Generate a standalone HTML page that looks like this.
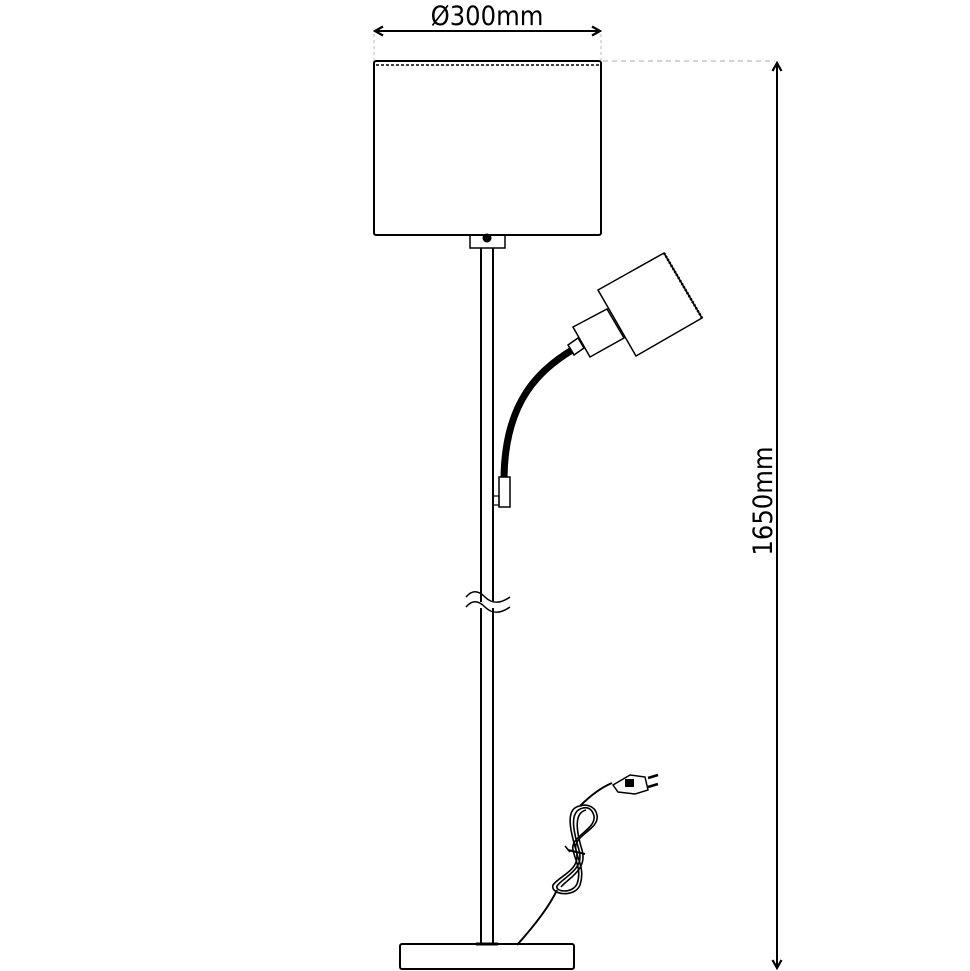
<!DOCTYPE html>
<html><head><style>
html,body{margin:0;padding:0;background:#fff;}
svg{display:block;}
text{font-family:"DejaVu Sans Condensed","Liberation Sans",sans-serif;}
</style></head><body>
<svg width="970" height="971" viewBox="0 0 970 971" xmlns="http://www.w3.org/2000/svg">
<defs>
<marker id="ah" markerWidth="12" markerHeight="12" refX="9" refY="6" orient="auto-start-reverse" markerUnits="userSpaceOnUse">
<path d="M1,1.5 L9,6 L1,10.5" fill="none" stroke="#000" stroke-width="2.2"/>
</marker>
</defs>
<g stroke="#000" fill="none" stroke-width="2">
<line x1="375" y1="31" x2="600" y2="31" marker-start="url(#ah)" marker-end="url(#ah)"/>
<line x1="374" y1="34" x2="374" y2="60" stroke="#bbb" stroke-width="1" stroke-dasharray="3,3"/>
<line x1="601" y1="34" x2="601" y2="60" stroke="#bbb" stroke-width="1" stroke-dasharray="3,3"/>
<line x1="603" y1="61" x2="775" y2="61" stroke="#aaa" stroke-width="1" stroke-dasharray="5,4"/>
<line x1="777" y1="63" x2="777" y2="968" marker-start="url(#ah)" marker-end="url(#ah)"/>
<rect x="374" y="61" width="227" height="174" rx="2"/>
<line x1="376" y1="65" x2="599" y2="65" stroke-width="1.5" stroke-dasharray="3,2"/>
<rect x="470" y="235" width="35" height="13" stroke-width="1.5"/>
<circle cx="487" cy="238" r="3.5" fill="#000"/>
<line x1="481" y1="248" x2="481" y2="602"/>
<line x1="493" y1="248" x2="493" y2="602"/>
<line x1="481" y1="608" x2="481" y2="944"/>
<line x1="493" y1="608" x2="493" y2="944"/>
<path d="M466,597 C472,590 478,590 485,597 C492,604 500,604 510,597" stroke-width="1.5"/>
<path d="M466,607 C472,600 478,600 485,607 C492,614 500,614 510,607" stroke-width="1.5"/>
<rect x="400" y="944" width="174" height="25" rx="2"/>
<line x1="476" y1="944" x2="498" y2="944" stroke-width="3"/>
<polygon points="598,290 664,253 702,318 636,356" fill="#fff" stroke-width="1.5"/>
<line x1="664" y1="253" x2="702" y2="318" stroke-width="2.5" stroke-dasharray="2,1.5"/>
<polygon points="573,327 607,309 624,338 590,357" fill="#fff" stroke-width="1.5"/>
<polygon points="568,345 578,338 584,348 574,355" fill="#fff" stroke-width="1.5"/>
<path d="M572,350 C540,370 505,400 504,478" stroke-width="7"/>
<rect x="499" y="477" width="11" height="30" fill="#fff" stroke-width="1.5"/>
<rect x="493" y="496" width="6" height="9" stroke-width="1.2"/>
<!-- cord -->
<path d="M517,945 C535,925 550,905 557,890" stroke-width="2"/>
<path d="M580,806 C590,796 600,788 612,783" stroke-width="2"/>
<g stroke-width="1.6">
<path d="M580,806 C565,808 570,830 576,850 C582,870 560,875 553,885 C550,895 575,898 580,885 C585,870 578,860 576,850 C572,835 600,830 597,815 C595,805 585,804 580,806"/>
<path d="M583,808 C569,811 573,830 579,850 C585,870 563,877 557,886 C555,892 572,894 577,884 C582,870 575,860 573,850 C570,836 596,830 594,816 C592,808 587,807 583,808"/>
<path d="M586,810 C574,813 576,830 582,850 C588,870 567,879 561,887"/>
</g>
<path d="M568,850 L585,854" stroke-width="2"/>
<path d="M565,846 L570,852" stroke-width="1.5"/>
<polygon points="613,785 630,775 645,777 648,790 635,794 618,792" fill="#fff" stroke-width="1.5"/>
<rect x="625" y="779" width="9" height="8" fill="#000" stroke="none"/>
<line x1="648" y1="778" x2="658" y2="775" stroke-width="2.5"/>
<line x1="648" y1="787" x2="658" y2="784" stroke-width="2.5"/>
</g>
<text x="487" y="25" font-size="27" text-anchor="middle">Ø300mm</text>
<text x="0" y="0" font-size="27" text-anchor="middle" transform="translate(772,501) rotate(-90)">1650mm</text>
</svg>
</body></html>
